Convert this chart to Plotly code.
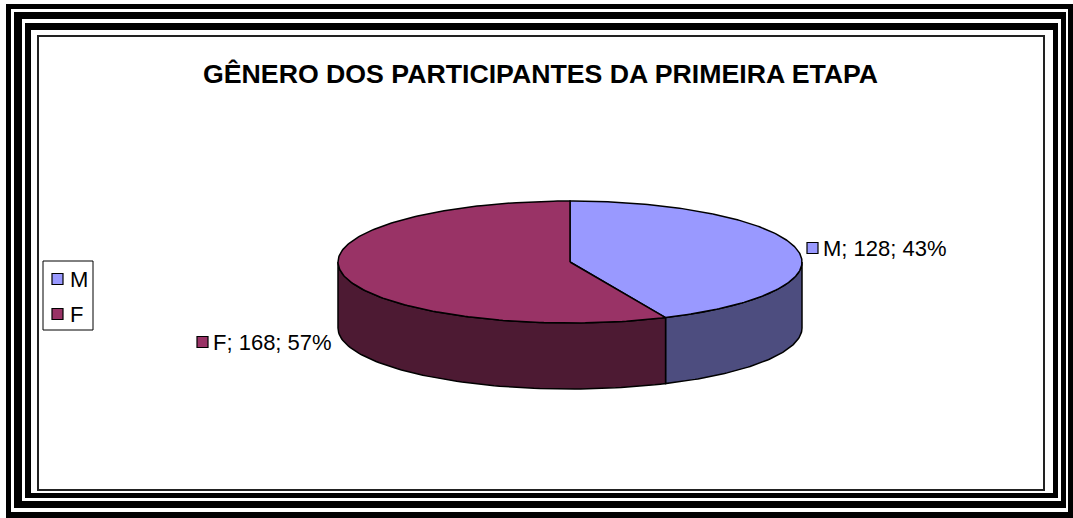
import numpy as np
import plotly.graph_objects as go

# ---- data ----
categories = ["M", "F"]
values = [128, 168]
title_text = "GÊNERO DOS PARTICIPANTES DA PRIMEIRA ETAPA"

# ---- style ----
top_colors = {"M": "#9999FF", "F": "#993366"}
side_colors = {"M": "#4D4D7F", "F": "#4D1A33"}
FONT = "Liberation Sans, Arial, sans-serif"

W, H = 1073, 518
cx, cy, rx, ry, depth = 570, 262, 232, 61, 66

total = sum(values)
fracs = [v / total for v in values]

def ell(th_deg, dy=0.0):
    t = np.radians(th_deg)
    return cx + rx * np.sin(t), cy - ry * np.cos(t) + dy

fig = go.Figure()

# slice angle spans (clockwise from 12 o'clock)
spans = []
start = 0.0
for c, f in zip(categories, fracs):
    spans.append((c, start, start + 360 * f))
    start += 360 * f

# side walls (visible front half 90..270)
for c, a, b in spans:
    lo, hi = max(a, 90), min(b, 270)
    if hi <= lo:
        continue
    th = np.linspace(lo, hi, 80)
    xt, yt = ell(th)
    xb, yb = ell(th[::-1], depth)
    xs = np.concatenate([xt, xb, xt[:1]])
    ys = np.concatenate([yt, yb, yt[:1]])
    fig.add_trace(go.Scatter(x=xs, y=ys, mode="lines", fill="toself",
                             fillcolor=side_colors[c],
                             line=dict(color="black", width=1.5),
                             hoverinfo="skip", showlegend=False))

# top faces
for c, a, b in spans:
    th = np.linspace(a, b, 200)
    xa, ya = ell(th)
    xs = np.concatenate([[cx], xa, [cx]])
    ys = np.concatenate([[cy], ya, [cy]])
    fig.add_trace(go.Scatter(x=xs, y=ys, mode="lines", fill="toself",
                             fillcolor=top_colors[c],
                             line=dict(color="black", width=1.5),
                             hoverinfo="skip", showlegend=False))

shapes = []
def frect(x0, y0, x1, y1, color="black"):
    shapes.append(dict(type="rect", xref="x", yref="y", x0=x0, y0=y0, x1=x1, y1=y1,
                       fillcolor=color, line=dict(width=0), layer="above"))

# triple outer border bands
frect(6, 4, 1073, 9); frect(6, 4, 11, 518); frect(1068, 4, 1073, 518); frect(6, 512, 1073, 518)
frect(14, 12, 1066, 19); frect(14, 12, 22, 508); frect(1061, 12, 1066, 508); frect(14, 501, 1066, 508)
frect(25, 23, 1058, 30); frect(25, 23, 31, 498); frect(1053, 23, 1058, 498); frect(25, 493, 1058, 498)

# inner chart-area frame
shapes.append(dict(type="rect", xref="x", yref="y", x0=38, y0=36, x1=1044, y1=490,
                   line=dict(color="#222222", width=2), fillcolor="rgba(0,0,0,0)"))

annotations = [dict(x=540, y=74, xref="x", yref="y", text="<b>" + title_text + "</b>",
                    showarrow=False, xanchor="center", yanchor="middle",
                    font=dict(family=FONT, size=26.7, color="black"))]

# legend box
shapes.append(dict(type="rect", xref="x", yref="y", x0=43, y0=261, x1=93, y1=330,
                   line=dict(color="black", width=1), fillcolor="white"))
leg_y = {"M": 279, "F": 314}
for c in categories:
    y = leg_y[c]
    shapes.append(dict(type="rect", xref="x", yref="y", x0=52, y0=y - 5.5, x1=63, y1=y + 5.5,
                       line=dict(color="black", width=1.2), fillcolor=top_colors[c]))
    annotations.append(dict(x=68, y=y, xref="x", yref="y", text=c, showarrow=False,
                            xanchor="left", yanchor="middle",
                            font=dict(family=FONT, size=22, color="black")))

# data labels
lab_pos = {"M": (807, 248), "F": (197, 342)}
for c, v, f in zip(categories, values, fracs):
    x, y = lab_pos[c]
    shapes.append(dict(type="rect", xref="x", yref="y", x0=x, y0=y - 5.5, x1=x + 11, y1=y + 5.5,
                       line=dict(color="black", width=1.2), fillcolor=top_colors[c]))
    annotations.append(dict(x=x + 14, y=y, xref="x", yref="y",
                            text=f"{c}; {v}; {round(100 * f)}%", showarrow=False,
                            xanchor="left", yanchor="middle",
                            font=dict(family=FONT, size=22, color="black")))

fig.update_layout(
    width=W, height=H, margin=dict(l=0, r=0, t=0, b=0),
    paper_bgcolor="white", plot_bgcolor="white",
    xaxis=dict(range=[0, W], visible=False, fixedrange=True),
    yaxis=dict(range=[H, 0], visible=False, fixedrange=True),
    shapes=shapes, annotations=annotations, showlegend=False,
)

fig.write_html("out.html", config={"displayModeBar": False},
               post_script="document.body.style.margin='0';document.body.style.overflow='hidden';")
